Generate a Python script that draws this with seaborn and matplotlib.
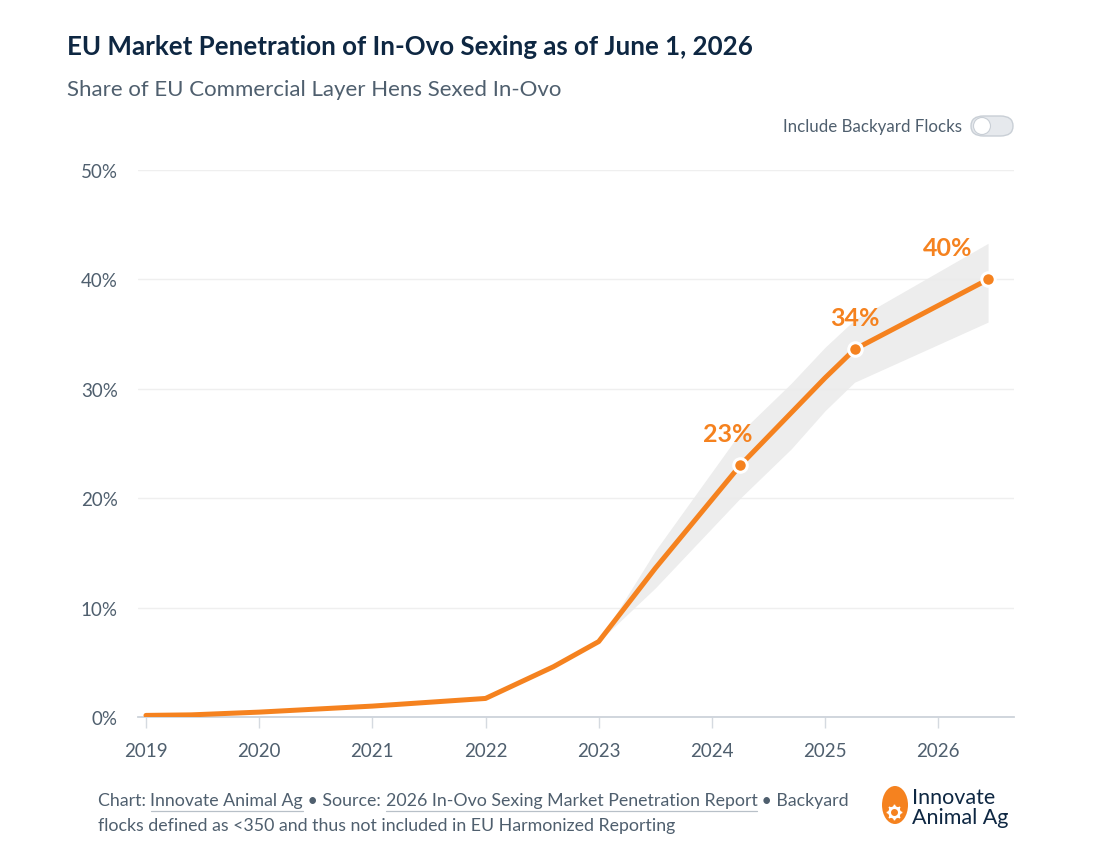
import numpy as np
import pandas as pd
import seaborn as sns
import matplotlib.pyplot as plt
from matplotlib.patches import FancyBboxPatch, Ellipse, Circle
from matplotlib.ticker import FuncFormatter

# Dados
years = [2019.0, 2019.4, 2020.0, 2021.0, 2022.0, 2022.6, 2023.0, 2023.5, 2024.25, 2024.7, 2025.0, 2025.26, 2026.44]
share = [0.15, 0.2, 0.45, 1.0, 1.7, 4.6, 6.9, 13.6, 23.0, 27.8, 31.0, 33.6, 40.0]

band_years = [2023.0, 2023.5, 2024.25, 2024.7, 2025.0, 2025.26, 2026.44]
band_low = [6.9, 11.8, 20.0, 24.5, 28.0, 30.6, 36.1]
band_high = [6.9, 15.2, 26.0, 30.5, 33.8, 36.3, 43.3]

marked_years = [2024.25, 2025.26, 2026.44]
marked_share = [23.0, 33.6, 40.0]
marked_labels = ['23%', '34%', '40%']
label_dx = [-9, 0, -29]   # deslocamento horizontal dos rótulos (pt)

year_ticks = [2019, 2020, 2021, 2022, 2023, 2024, 2025, 2026]
pct_ticks = [0, 10, 20, 30, 40, 50]

ORANGE = '#F5821F'
NAVY = '#0E2742'
GREY_TXT = '#4F5F6E'

sns.set_style('white')
plt.rcParams['font.family'] = ['Lato', 'DejaVu Sans']

df = pd.DataFrame({'year': years, 'share': share})
dots = pd.DataFrame({'year': marked_years, 'share': marked_share})

fig = plt.figure(figsize=(11, 8.62), dpi=100)
ax = fig.add_axes([0.1255, 0.167, 0.7964, 0.6346])

# Faixa de incerteza
ax.fill_between(band_years, band_low, band_high, color='#EBEBEB', alpha=0.9, lw=0, zorder=1)

# Linha principal
sns.lineplot(data=df, x='year', y='share', ax=ax, color=ORANGE, lw=3.6, zorder=3,
             solid_capstyle='round', solid_joinstyle='round')
sns.scatterplot(data=dots, x='year', y='share', ax=ax, color=ORANGE, s=95,
                edgecolor='white', linewidth=2.2, zorder=4)

for x, y, lab, dx in zip(marked_years, marked_share, marked_labels, label_dx):
    ax.annotate(lab, (x, y), xytext=(dx, 23), textcoords='offset points',
                ha='center', va='center', color=ORANGE, fontsize=18, fontweight='bold')

ax.set_xlim(2018.93, 2026.67)
ax.set_ylim(0, 50)
ax.set_xticks(year_ticks)
ax.set_yticks(pct_ticks)
ax.yaxis.set_major_formatter(FuncFormatter(lambda v, p: f'{v:.0f}%'))
ax.set_xlabel('')
ax.set_ylabel('')

ax.grid(axis='y', color='#EFEFEF', lw=1)
ax.grid(axis='x', visible=False)
for side in ['top', 'right', 'left']:
    ax.spines[side].set_visible(False)
ax.spines['bottom'].set_color('#CDD3DA')
ax.spines['bottom'].set_linewidth(1.3)

ax.tick_params(axis='x', bottom=True, length=8, width=1, color='#D5DAE0',
               labelsize=13.5, labelcolor=GREY_TXT, pad=10)
ax.tick_params(axis='y', left=False, labelsize=13.5, labelcolor=GREY_TXT, pad=11)

# Título e subtítulo
fig.text(67/1100, 1-47/862, 'EU Market Penetration of In-Ovo Sexing as of June 1, 2026',
         fontsize=18.6, fontweight='bold', color=NAVY, va='center', ha='left')
fig.text(67/1100, 1-90/862, 'Share of EU Commercial Layer Hens Sexed In-Ovo',
         fontsize=16, color=GREY_TXT, va='center', ha='left')

# Interruptor "Include Backyard Flocks"
fig.text(962/1100, 1-127/862, 'Include Backyard Flocks', fontsize=12.2, color=GREY_TXT,
         va='center', ha='right')
toggle = FancyBboxPatch((971/1100, 1-137/862), 42/1100, 20/862,
                        boxstyle='round,pad=0,rounding_size=0.0115', transform=fig.transFigure,
                        facecolor='#E6E9ED', edgecolor='#C9CFD6', lw=1)
fig.patches.append(toggle)
knob = Ellipse((982/1100, 1-127/862), 17/1100, 17/862, transform=fig.transFigure,
               facecolor='white', edgecolor='#C9CFD6', lw=0.8)
fig.patches.append(knob)

# Rodapé com trechos sublinhados
fig.canvas.draw()
renderer = fig.canvas.get_renderer()
foot_size = 12.8
line1 = [('Chart: ', False), ('Innovate Animal Ag', True), (' \u2022 Source: ', False),
         ('2026 In-Ovo Sexing Market Penetration Report', True), (' \u2022 Backyard', False)]
x_px = 98
y1 = 1-801/862
for piece, under in line1:
    t = fig.text(x_px/1100, y1, piece, fontsize=foot_size, color=GREY_TXT, va='center', ha='left')
    w, h, d = renderer.get_text_width_height_descent(piece, t.get_fontproperties(), ismath=False)
    if under:
        fig.add_artist(plt.Line2D([x_px/1100, (x_px+w)/1100], [y1-11/862, y1-11/862],
                                  transform=fig.transFigure, color='#B8C0C8', lw=0.9))
    x_px += w
fig.text(98/1100, 1-826/862, 'flocks defined as <350 and thus not included in EU Harmonized Reporting',
         fontsize=foot_size, color=GREY_TXT, va='center', ha='left')

# Logotipo
egg = Ellipse((895/1100, 1-806/862), 26/1100, 38/862, transform=fig.transFigure,
              facecolor=ORANGE, edgecolor='none')
fig.patches.append(egg)
fig.add_artist(plt.Line2D([894/1100], [1-813/862], transform=fig.transFigure, marker=(8, 1, 0),
                          markersize=11, color='white', lw=0))
fig.add_artist(plt.Line2D([894/1100], [1-813/862], transform=fig.transFigure, marker='o',
                          markersize=8, markerfacecolor='white', markeredgecolor='white', lw=0))
fig.add_artist(plt.Line2D([894/1100], [1-813/862], transform=fig.transFigure, marker='o',
                          markersize=4, markerfacecolor=ORANGE, markeredgecolor=ORANGE, lw=0))
fig.text(912/1100, 1-798/862, 'Innovate', fontsize=15.5, color=NAVY, va='center', ha='left')
fig.text(912/1100, 1-818/862, 'Animal Ag', fontsize=15.5, color=NAVY, va='center', ha='left')

fig.savefig('out.png', dpi=100)
